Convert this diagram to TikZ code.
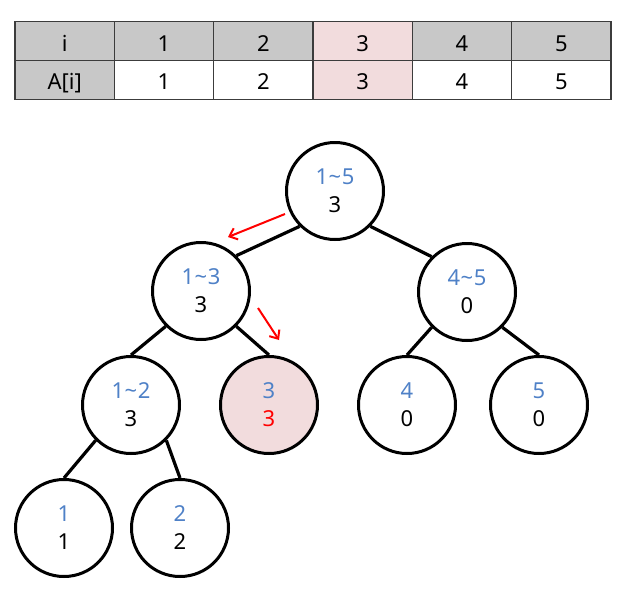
\documentclass[tikz,border=0pt]{standalone}
\usepackage{fontspec}
\setmainfont{Noto Sans}
\usetikzlibrary{arrows.meta}
\definecolor{cellgray}{RGB}{200,200,200}
\definecolor{cellpink}{RGB}{242,220,221}
\definecolor{rangeblue}{RGB}{79,129,199}
\definecolor{gridline}{RGB}{60,60,60}
\newcommand{\rng}[2]{#1\kern0.5pt\textasciitilde\kern0.5pt#2}
\begin{document}
\begin{tikzpicture}[x=1pt,y=-1pt,
  cell/.style={draw=gridline,line width=1.2pt,minimum width=99.33pt,minimum height=38.7pt,
    inner sep=0pt,text height=19.8pt,text depth=0pt,font=\fontsize{22}{24}\selectfont},
  grayc/.style={cell,fill=cellgray},
  pinkc/.style={cell,fill=cellpink},
  whitec/.style={cell,fill=white},
  tnode/.style={circle,draw=black,line width=3pt,minimum size=97pt,inner sep=0pt,
    align=center,font=\fontsize{22}{28}\selectfont},
  hinode/.style={tnode,fill=cellpink},
  edge/.style={line width=3.2pt},
  trace/.style={draw=red,line width=2pt,-{Straight Barb[length=7pt,width=12pt,line width=2pt]}}]
\useasboundingbox (0,0) rectangle (634,589);
% table
\node[grayc] (h0) at (64.67,41.2) {i};
\node[grayc] (h1) at (164.0,41.2) {1};
\node[grayc] (h2) at (263.33,41.2) {2};
\node[pinkc] (h3) at (362.67,41.2) {3};
\node[grayc] (h4) at (462.0,41.2) {4};
\node[grayc] (h5) at (561.33,41.2) {5};
\node[grayc] (v0) at (64.67,79.9) {A[i]};
\node[whitec] (v1) at (164.0,79.9) {1};
\node[whitec] (v2) at (263.33,79.9) {2};
\node[pinkc] (v3) at (362.67,79.9) {3};
\node[whitec] (v4) at (462.0,79.9) {4};
\node[whitec] (v5) at (561.33,79.9) {5};
% tree
\node[tnode] (r) at (335,191) {\textcolor{rangeblue}{\rng{1}{5}}\\3};
\node[tnode] (n13) at (201,291) {\textcolor{rangeblue}{\rng{1}{3}}\\3};
\node[tnode] (n45) at (467,292) {\textcolor{rangeblue}{\rng{4}{5}}\\0};
\node[tnode] (n12) at (131,405) {\textcolor{rangeblue}{\rng{1}{2}}\\3};
\node[hinode] (n3) at (269,405) {\textcolor{rangeblue}{3}\\\textcolor{red}{3}};
\node[tnode] (n4) at (407,405) {\textcolor{rangeblue}{4}\\0};
\node[tnode] (n5) at (539,405) {\textcolor{rangeblue}{5}\\0};
\node[tnode] (n1) at (64,528) {\textcolor{rangeblue}{1}\\1};
\node[tnode] (n2) at (180,528) {\textcolor{rangeblue}{2}\\2};
\draw[edge] (r.south west) -- (n13.north east);
\draw[edge] (r.south east) -- (n45.north west);
\draw[edge] (n13.south west) -- (n12.north);
\draw[edge] (n13.south east) -- (n3.north);
\draw[edge] (n45.south west) -- (n4.north);
\draw[edge] (n45.south east) -- (n5.north);
\draw[edge] (n12.south west) -- (n1.north);
\draw[edge] (n12.south east) -- (n2.north);
% trace arrows
\coordinate (a1s) at (285,214);
\coordinate (a1e) at (228,237);
\coordinate (a2s) at (258,308);
\coordinate (a2e) at (279,340);
\draw[trace] (a1s) -- (a1e);
\draw[trace] (a2s) -- (a2e);
\end{tikzpicture}
\end{document}
